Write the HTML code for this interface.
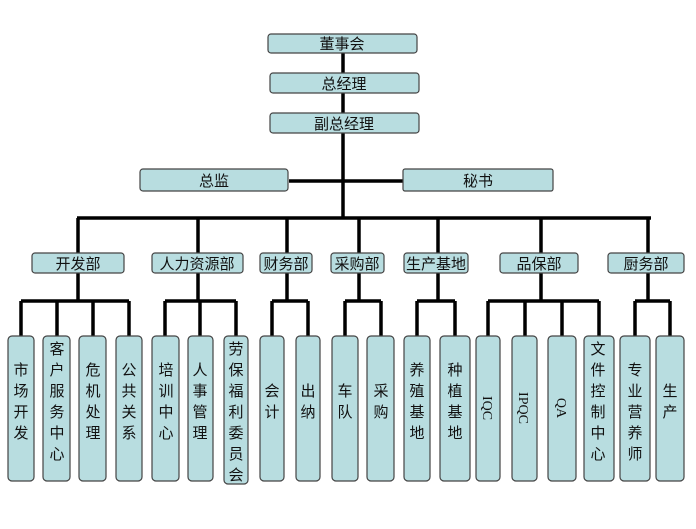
<!DOCTYPE html>
<html><head><meta charset="utf-8"><style>
html,body{margin:0;padding:0;background:#fff;}
svg text{font-family:"Liberation Sans","Noto Sans CJK SC",sans-serif;font-size:15px;fill:#111;}
</style></head><body>
<svg width="696" height="524" viewBox="0 0 696 524" xmlns="http://www.w3.org/2000/svg">
<g stroke="#000" stroke-width="3.5" fill="none">
<path d="M343 53V218M289 181H403M77 218H651"/>
<path d="M78 218V253M198 218V253M287 218V253M359 218V253M438 218V253M541 218V253M648 218V253"/>
<!-- 开发 -->
<path d="M78 273V301M21 301H129M21 301V336M57 301V336M93 301V336M129 301V336"/>
<path d="M198 273V301M165 301H236M165 301V336M200 301V336M236 301V336"/>
<path d="M287 273V301M272 301H308M272 301V336M308 301V336"/>
<path d="M359 273V301M345 301H381M345 301V336M381 301V336"/>
<path d="M438 273V301M417 301H455M417 301V336M455 301V336"/>
<path d="M541 273V301M488 301H599M488 301V336M525 301V336M562 301V336M599 301V336"/>
<path d="M648 273V301M635 301H670M635 301V336M670 301V336"/>
</g>
<g fill="#b8dde0" stroke="#444" stroke-width="1.2">
<rect x="268" y="34" width="149" height="19" rx="3"/>
<rect x="270" y="73" width="149" height="20" rx="3"/>
<rect x="270" y="113" width="149" height="20" rx="3"/>
<rect x="140" y="169" width="148" height="22" rx="3"/>
<rect x="403" y="169" width="150" height="22" rx="2"/>
<rect x="32" y="253" width="92" height="20" rx="3"/>
<rect x="152" y="253" width="91" height="20" rx="3"/>
<rect x="260" y="253" width="52" height="20" rx="3"/>
<rect x="331" y="253" width="53" height="20" rx="3"/>
<rect x="404" y="253" width="64" height="20" rx="3"/>
<rect x="500" y="253" width="78" height="20" rx="3"/>
<rect x="608" y="253" width="76" height="20" rx="3"/>
<rect x="8" y="336" width="26" height="145" rx="4"/>
<rect x="43" y="336" width="27" height="145" rx="4"/>
<rect x="79" y="336" width="27" height="145" rx="4"/>
<rect x="116" y="336" width="26" height="145" rx="4"/>
<rect x="152" y="336" width="27" height="145" rx="4"/>
<rect x="188" y="336" width="25" height="145" rx="4"/>
<rect x="224" y="336" width="24" height="148" rx="4"/>
<rect x="260" y="336" width="24" height="145" rx="4"/>
<rect x="296" y="336" width="24" height="145" rx="4"/>
<rect x="332" y="336" width="26" height="145" rx="4"/>
<rect x="367" y="336" width="27" height="145" rx="4"/>
<rect x="404" y="336" width="26" height="145" rx="4"/>
<rect x="440" y="336" width="30" height="145" rx="4"/>
<rect x="476" y="336" width="24" height="145" rx="4"/>
<rect x="512" y="336" width="25" height="145" rx="4"/>
<rect x="548" y="336" width="28" height="145" rx="4"/>
<rect x="584" y="336" width="30" height="145" rx="4"/>
<rect x="620" y="336" width="30" height="145" rx="4"/>
<rect x="656" y="336" width="28" height="145" rx="4"/>
</g>
<g text-anchor="middle">
<text x="342" y="49">董事会</text>
<text x="344" y="89">总经理</text>
<text x="344" y="129">副总经理</text>
<text x="214" y="186">总监</text>
<text x="478" y="186">秘书</text>
<text x="78" y="269">开发部</text>
<text x="197" y="269">人力资源部</text>
<text x="286" y="269">财务部</text>
<text x="357" y="269">采购部</text>
<text x="436" y="269">生产基地</text>
<text x="539" y="269">品保部</text>
<text x="646" y="269">厨务部</text>
</g>
<g text-anchor="middle">
<text x="21" y="375">市</text><text x="21" y="396">场</text><text x="21" y="417">开</text><text x="21" y="438">发</text>
<text x="57" y="354">客</text><text x="57" y="375">户</text><text x="57" y="396">服</text><text x="57" y="417">务</text><text x="57" y="438">中</text><text x="57" y="459">心</text>
<text x="93" y="375">危</text><text x="93" y="396">机</text><text x="93" y="417">处</text><text x="93" y="438">理</text>
<text x="129" y="375">公</text><text x="129" y="396">共</text><text x="129" y="417">关</text><text x="129" y="438">系</text>
<text x="166" y="375">培</text><text x="166" y="396">训</text><text x="166" y="417">中</text><text x="166" y="438">心</text>
<text x="200" y="375">人</text><text x="200" y="396">事</text><text x="200" y="417">管</text><text x="200" y="438">理</text>
<text x="236" y="354">劳</text><text x="236" y="375">保</text><text x="236" y="396">福</text><text x="236" y="417">利</text><text x="236" y="438">委</text><text x="236" y="459">员</text><text x="236" y="480">会</text>
<text x="272" y="396">会</text><text x="272" y="417">计</text>
<text x="308" y="396">出</text><text x="308" y="417">纳</text>
<text x="345" y="396">车</text><text x="345" y="417">队</text>
<text x="381" y="396">采</text><text x="381" y="417">购</text>
<text x="417" y="375">养</text><text x="417" y="396">殖</text><text x="417" y="417">基</text><text x="417" y="438">地</text>
<text x="455" y="375">种</text><text x="455" y="396">植</text><text x="455" y="417">基</text><text x="455" y="438">地</text>
<text x="598" y="354">文</text><text x="598" y="375">件</text><text x="598" y="396">控</text><text x="598" y="417">制</text><text x="598" y="438">中</text><text x="598" y="459">心</text>
<text x="635" y="375">专</text><text x="635" y="396">业</text><text x="635" y="417">营</text><text x="635" y="438">养</text><text x="635" y="459">师</text>
<text x="670" y="396">生</text><text x="670" y="417">产</text>
<text transform="translate(483,408) rotate(90)" style="font-family:'Liberation Serif',serif;font-size:14px">IQC</text>
<text transform="translate(519,408) rotate(90)" style="font-family:'Liberation Serif',serif;font-size:14px">IPQC</text>
<text transform="translate(557,408) rotate(90)" style="font-family:'Liberation Serif',serif;font-size:14px">QA</text>
</g>
</svg>
</body></html>
